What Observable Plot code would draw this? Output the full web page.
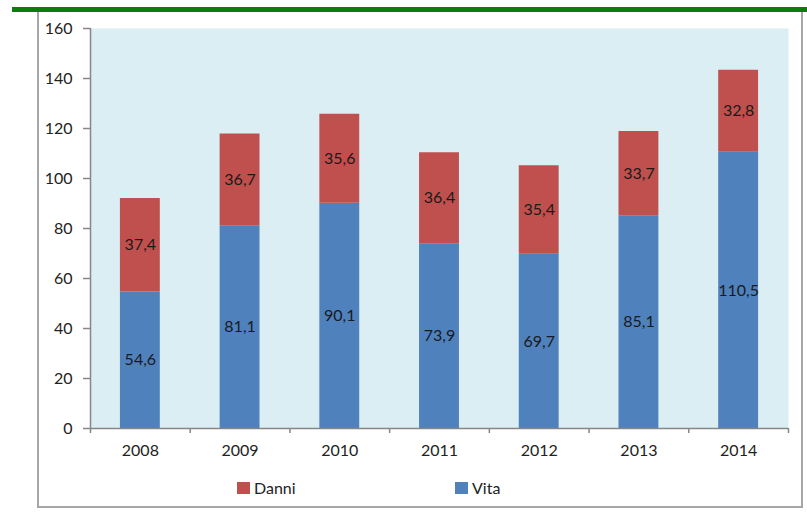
<!DOCTYPE html>
<html><head><meta charset="utf-8">
<script src="https://cdn.jsdelivr.net/npm/d3@7"></script>
<script src="https://cdn.jsdelivr.net/npm/@observablehq/plot@0.6"></script>
<style>
body{margin:0;background:#fff;}
#wrap{position:relative;width:807px;height:513px;overflow:hidden;font-family:Lato,"Open Sans",sans-serif;}
#green{position:absolute;left:12px;top:7px;width:795px;height:5px;background:#0a7d0a;}
#box{position:absolute;left:37px;top:12px;width:762px;height:494px;border:2px solid #a6a6a6;border-top:none;}
#chart{position:absolute;left:0;top:0;}
.leg{position:absolute;top:478px;font-size:16px;color:#222;display:flex;align-items:center;}
.leg i{display:inline-block;width:13px;height:12px;margin-right:4px;}
</style></head><body>
<div id="wrap">
<div id="box"></div>
<div id="green"></div>
<div id="chart"></div>
<div class="leg" style="left:237px"><i style="background:#C0504D"></i>Danni</div>
<div class="leg" style="left:455px"><i style="background:#4F81BD"></i>Vita</div>
</div>
<script>
const years = ["2008","2009","2010","2011","2012","2013","2014"];
const vita = [54.6, 81.1, 90.1, 73.9, 69.7, 85.1, 110.5];
const danni = [37.4, 36.7, 35.6, 36.4, 35.4, 33.7, 32.8];
const yTicks = [0, 20, 40, 60, 80, 100, 120, 140, 160];
const series = ["Danni", "Vita"];
const colors = ["#C0504D", "#4F81BD"];

const rows = years.flatMap((yr, i) => [
  {i, year: yr, series: "Vita", y1: 0, y2: vita[i], v: vita[i]},
  {i, year: yr, series: "Danni", y1: vita[i], y2: vita[i] + danni[i], v: danni[i]}
]);
const fmt = d => d.toFixed(1).replace(".", ",");
const axisColor = "#868686";

const chart = Plot.plot({
  width: 807, height: 513,
  marginLeft: 90, marginRight: 19, marginTop: 28, marginBottom: 85,
  x: {type: "linear", domain: [0, years.length]},
  y: {domain: [0, 160]},
  color: {domain: series, range: colors},
  style: {fontFamily: "Lato, 'Open Sans', sans-serif", fontSize: "16px", color: "#222", background: "transparent"},
  marks: [
    Plot.frame({fill: "#DBEEF3", stroke: null}),
    Plot.rect(rows, {x1: d => d.i + 0.3, x2: d => d.i + 0.7, y1: "y1", y2: "y2", fill: "series"}),
    Plot.text(rows, {x: d => d.i + 0.5, y: d => (d.y1 + d.y2) / 2, text: d => fmt(d.v), fill: "#1a1a1a", fontSize: 16}),
    Plot.ruleX([0], {stroke: axisColor, strokeWidth: 1.5}),
    Plot.ruleY([0], {stroke: axisColor, strokeWidth: 1.5}),
    Plot.axisY({ticks: yTicks, tickSize: 7, tickPadding: 11, stroke: axisColor, strokeWidth: 1.5, fill: "#222", label: null}),
    Plot.axisX({ticks: d3.range(years.length + 1), tickFormat: () => "", tickSize: 5, stroke: axisColor, strokeWidth: 1.5, label: null}),
    Plot.axisX({ticks: years.map((_, i) => i + 0.5), tickSize: 0, tickPadding: 16, tickFormat: d => years[Math.round(d - 0.5)], fill: "#222", label: null})
  ]
});
document.getElementById("chart").appendChild(chart);
</script>
</body></html>
